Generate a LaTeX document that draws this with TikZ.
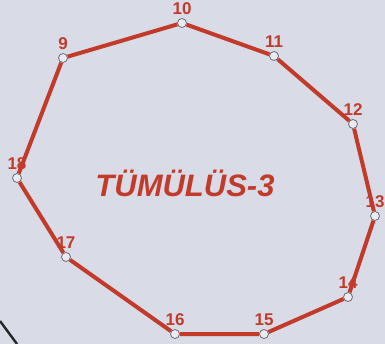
\documentclass[tikz,border=0pt]{standalone}
\usepackage{fontspec}
\setmainfont{Liberation Sans}
\usetikzlibrary{arrows.meta,positioning}
\definecolor{paper}{HTML}{D9DBE7}
\definecolor{wall}{HTML}{C23B2A}
\definecolor{rim}{HTML}{6E6A70}

\tikzset{
  stake/.style={circle,draw=rim,fill=paper!55!white,line width=.8pt,minimum size=9pt,inner sep=0pt},
  num/.style={font=\bfseries\fontsize{17}{17}\selectfont,text=wall,inner sep=1pt},
}

\begin{document}
\begin{tikzpicture}[x=1pt,y=-1pt,>=Stealth]
\fill[paper] (0,0) rectangle (385,344);
\useasboundingbox (0,0) rectangle (385,344);
\draw[line width=2.4pt,black!85] (0,321)--(17,344);
\foreach \n/\x/\y in {9/63/58,10/182/23,11/274/56,12/353/124,13/375/216,14/348/297,15/264/334,16/175/334,17/66/257,18/17/178}
  \node[stake,label={[num,label distance=2pt]above:\n}] (p\n) at (\x,\y) {};
\draw[wall,line width=4pt] (p9)--(p10)--(p11)--(p12)--(p13)--(p14)--(p15)--(p16)--(p17)--(p18)--(p9);
\node[font=\bfseries\itshape\fontsize{31}{31}\selectfont,text=wall] (title) at (185,183) {TÜMÜLÜS-3};
\end{tikzpicture}
\end{document}
